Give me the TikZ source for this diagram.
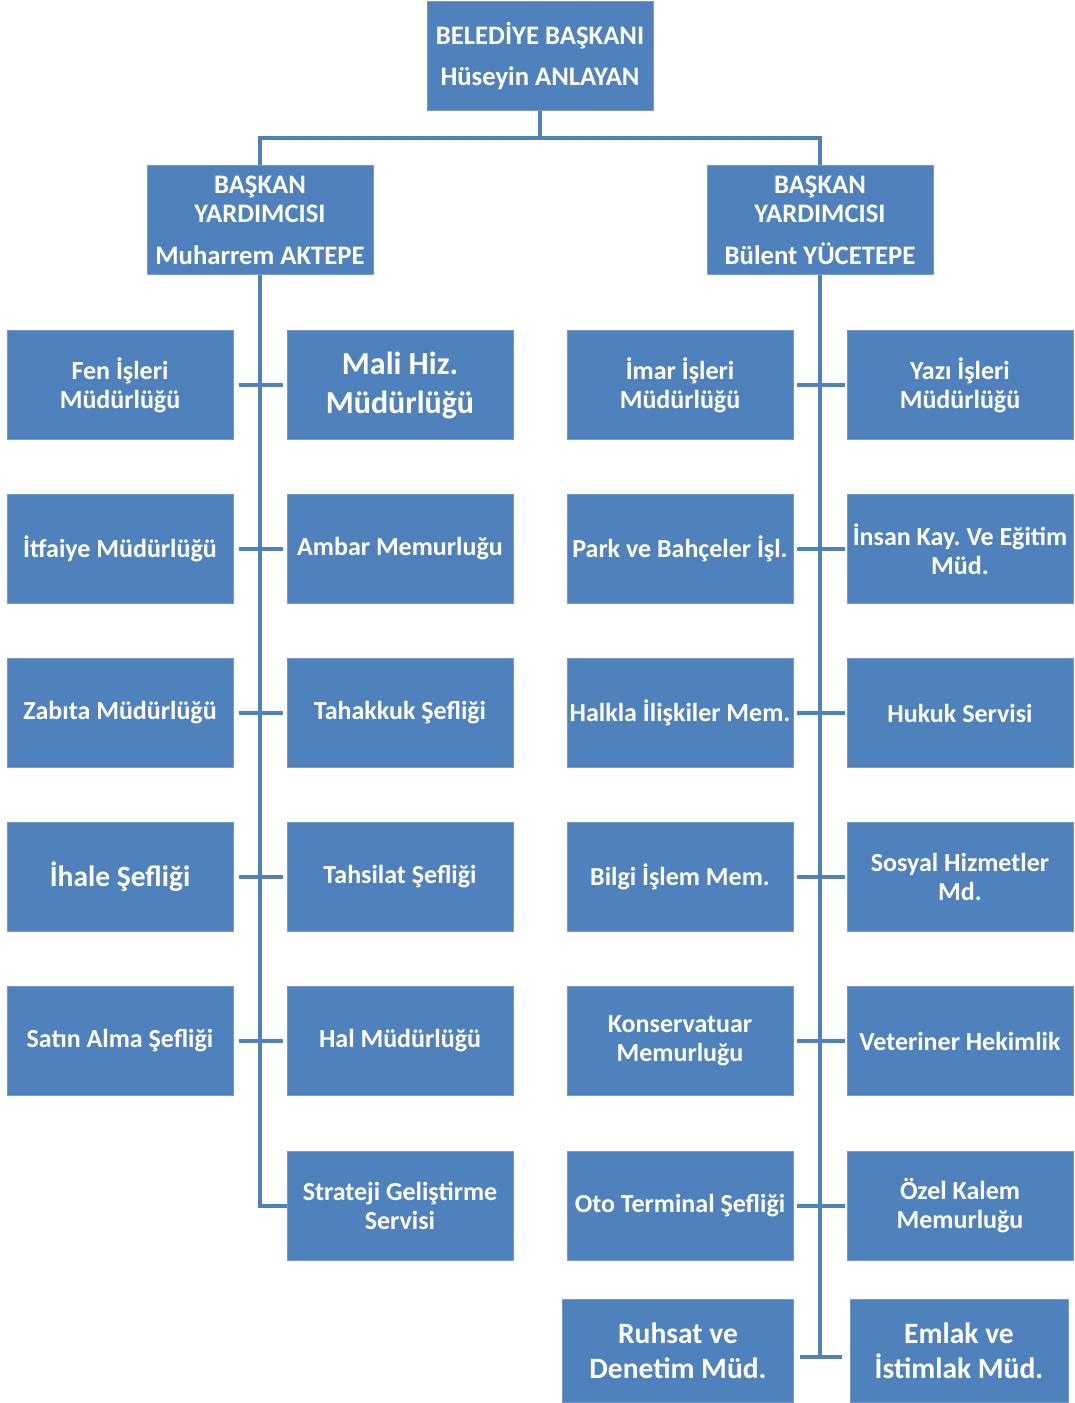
\documentclass[tikz,border=0pt]{standalone}
\usepackage{fontspec}
\setmainfont{Carlito}
\usepackage{tikz}
\frenchspacing

\definecolor{boxblue}{HTML}{4F81BD}

\begin{document}
\begin{tikzpicture}[x=1pt,y=-1pt,
		unit/.style={draw=boxblue!80!white,fill=boxblue,text=white,align=center,inner sep=0pt,
			minimum width=226pt,minimum height=109pt,font=\bfseries\fontsize{26}{29}\selectfont},
		bigunit/.style={unit,font=\bfseries\fontsize{29.5}{35}\selectfont},
		headunit/.style={unit,font=\bfseries\fontsize{26.7}{29}\selectfont},
		link/.style={draw=boxblue,line width=4pt}]
		\useasboundingbox (0,0) rectangle (1074,1403);
		\node[headunit] (top) at (540,56) {BELEDİYE BAŞKANI\\[12pt]Hüseyin ANLAYAN};
		\node[headunit] (vpl) at (260,220) {BAŞKAN\\YARDIMCISI\\[13pt]Muharrem AKTEPE};
		\node[headunit] (vpr) at (820,220) {BAŞKAN\\YARDIMCISI\\[13pt]Bülent YÜCETEPE};
		\node[unit] (la1) at (120,385) {Fen İşleri\\Müdürlüğü};
		\node[unit] (la2) at (120,549) {İtfaiye Müdürlüğü};
		\node[unit] (la3) at (120,713) {Zabıta Müdürlüğü};
		\node[bigunit] (la4) at (120,877) {İhale Şefliği};
		\node[unit] (la5) at (120,1041) {Satın Alma Şefliği};
		\node[bigunit,font=\bfseries\fontsize{32}{39}\selectfont] (lb1) at (400,385) {Mali Hiz.\\Müdürlüğü};
		\node[unit] (lb2) at (400,549) {Ambar Memurluğu};
		\node[unit] (lb3) at (400,713) {Tahakkuk Şefliği};
		\node[unit] (lb4) at (400,877) {Tahsilat Şefliği};
		\node[unit] (lb5) at (400,1041) {Hal Müdürlüğü};
		\node[unit] (lb6) at (400,1206) {Strateji Geliştirme\\Servisi};
		\node[unit] (ra1) at (680,385) {İmar İşleri\\Müdürlüğü};
		\node[unit] (ra2) at (680,549) {Park ve Bahçeler İşl.};
		\node[unit] (ra3) at (680,713) {Halkla İlişkiler Mem.};
		\node[unit] (ra4) at (680,877) {Bilgi İşlem Mem.};
		\node[unit] (ra5) at (680,1041) {Konservatuar\\Memurluğu};
		\node[unit] (ra6) at (680,1206) {Oto Terminal Şefliği};
		\node[bigunit,minimum width=231pt,minimum height=103pt] (ra7) at (678,1351) {Ruhsat ve\\Denetim Müd.};
		\node[unit] (rb1) at (960,385) {Yazı İşleri\\Müdürlüğü};
		\node[unit] (rb2) at (960,549) {İnsan Kay. Ve Eğitim\\Müd.};
		\node[unit] (rb3) at (960,713) {Hukuk Servisi};
		\node[unit] (rb4) at (960,877) {Sosyal Hizmetler\\Md.};
		\node[unit] (rb5) at (960,1041) {Veteriner Hekimlik};
		\node[unit] (rb6) at (960,1206) {Özel Kalem\\Memurluğu};
		\node[bigunit,minimum width=218pt,minimum height=103pt] (rb7) at (959,1351) {Emlak ve\\İstimlak Müd.};
		\coordinate (bar) at (540,138);
		\coordinate (rend) at (820,1357);
		\draw[link] (top.south) -- (bar);
		\draw[link] (vpl.north) |- (bar) -| (vpr.north);
		\draw[link] (vpl.south) |- (lb6.west);
		\draw[link] (vpr.south) -- (rend);
		\draw[link] ([xshift=-20pt]rend) -- ([xshift=22pt]rend);
		\foreach \i in {1,...,5}
			\draw[link] ([xshift=6pt]la\i.east) -- ([xshift=-4pt]lb\i.west);
		\foreach \i in {1,...,6}
			\draw[link] ([xshift=4pt]ra\i.east) -- ([xshift=-2pt]rb\i.west);
	\end{tikzpicture}
\end{document}
